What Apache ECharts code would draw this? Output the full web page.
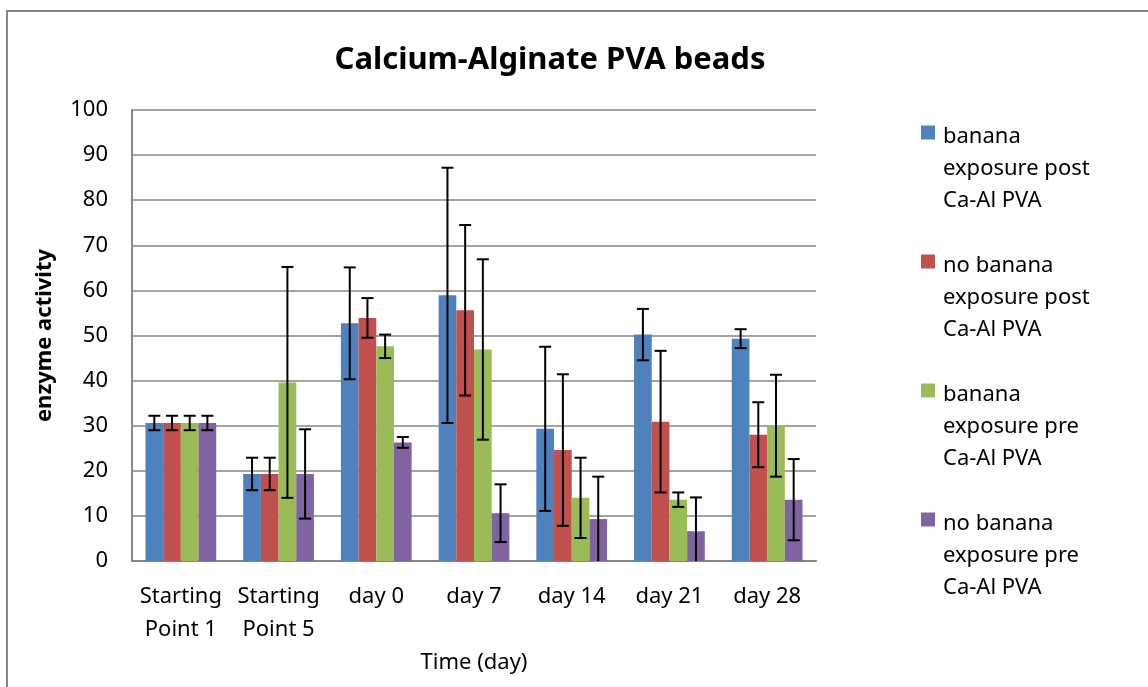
<!DOCTYPE html>
<html>
<head>
<meta charset="utf-8">
<script src="https://cdn.jsdelivr.net/npm/echarts@6/dist/echarts.min.js"></script>
<style>
  html, body { margin: 0; padding: 0; background: #fff; }
  #chart { width: 1148px; height: 687px; }
</style>
</head>
<body>
<div id="chart"></div>
<script>
  // categories on the time axis
  var categories = ['Starting\nPoint 1', 'Starting\nPoint 5', 'day 0', 'day 7', 'day 14', 'day 21', 'day 28'];
  var seriesNames = [
    'banana\nexposure post\nCa-Al PVA',
    'no banana\nexposure post\nCa-Al PVA',
    'banana\nexposure pre\nCa-Al PVA',
    'no banana\nexposure pre\nCa-Al PVA'
  ];
  var colors = ['#4F81BD', '#C0504D', '#9BBB59', '#8064A2'];

  // enzyme activity + error bar half-length
  var postBanana      = [30.6, 19.3, 52.7, 58.9, 29.3, 50.2, 49.3];
  var postBananaErr   = [1.6, 3.6, 12.4, 28.3, 18.2, 5.7, 2.1];
  var postNoBanana    = [30.6, 19.3, 53.9, 55.6, 24.6, 30.9, 28.0];
  var postNoBananaErr = [1.6, 3.6, 4.4, 18.9, 16.8, 15.7, 7.2];
  var preBanana       = [30.6, 39.6, 47.6, 46.9, 14.0, 13.6, 30.0];
  var preBananaErr    = [1.6, 25.6, 2.6, 20.0, 8.9, 1.6, 11.3];
  var preNoBanana     = [30.6, 19.3, 26.3, 10.6, 9.3, 6.6, 13.6];
  var preNoBananaErr  = [1.6, 9.9, 1.2, 6.4, 9.4, 7.5, 9.0];

  var yTicks = [0, 10, 20, 30, 40, 50, 60, 70, 80, 90, 100];

  var values = [postBanana, postNoBanana, preBanana, preNoBanana];
  var errors = [postBananaErr, postNoBananaErr, preBananaErr, preNoBananaErr];

  var CAT_GAP = 0.276;
  var FONT = "'Noto Sans', sans-serif";

  var chart = echarts.init(document.getElementById('chart'));

  function errorBars(idx) {
    return {
      type: 'custom',
      renderItem: function (params, api) {
        var ci = api.value(0), v = api.value(1), e = api.value(2);
        var band = api.size([1, 0])[0];
        var groupW = band * (1 - CAT_GAP);
        var barW = groupW / 4;
        var x = api.coord([ci, 0])[0] - groupW / 2 + (idx + 0.5) * barW;
        var lo = Math.max(0, v - e);
        var yTop = api.coord([ci, v + e])[1];
        var yLo = api.coord([ci, lo])[1];
        var cap = 6;
        var style = { stroke: '#000', lineWidth: 2 };
        var kids = [
          { type: 'line', shape: { x1: x, y1: yTop, x2: x, y2: yLo }, style: style },
          { type: 'line', shape: { x1: x - cap, y1: yTop, x2: x + cap, y2: yTop }, style: style }
        ];
        if (v - e > 0) {
          kids.push({ type: 'line', shape: { x1: x - cap, y1: yLo, x2: x + cap, y2: yLo }, style: style });
        }
        return { type: 'group', children: kids };
      },
      data: values[idx].map(function (v, i) { return [i, v, errors[idx][i]]; }),
      encode: { x: 0, y: 1 },
      z: 10,
      silent: true
    };
  }

  var series = [];
  values.forEach(function (vals, i) {
    series.push({
      name: seriesNames[i],
      type: 'bar',
      data: vals,
      barGap: '0%',
      barCategoryGap: (CAT_GAP * 100) + '%',
      itemStyle: { color: colors[i] }
    });
  });
  values.forEach(function (vals, i) { series.push(errorBars(i)); });

  var option = {
    animation: false,
    color: colors,
    textStyle: { fontFamily: FONT },
    title: {
      text: 'Calcium-Alginate PVA beads',
      left: 545,
      textAlign: 'center',
      top: 40,
      textStyle: { fontFamily: FONT, fontWeight: 'bold', fontSize: 31, color: '#000' }
    },
    legend: {
      data: seriesNames,
      orient: 'vertical',
      left: 921,
      top: 121,
      padding: 0,
      itemGap: 33,
      itemWidth: 17,
      itemHeight: 96,
      icon: 'path://M0,9H14V23H0Z M17,96L17,96',
      textStyle: { fontFamily: FONT, fontSize: 22, lineHeight: 32, color: '#000' }
    },
    grid: { left: 132, right: 332, top: 110, bottom: 126, containLabel: false },
    xAxis: {
      type: 'category',
      data: categories,
      name: 'Time (day)',
      nameLocation: 'middle',
      nameGap: 91,
      nameTextStyle: { fontFamily: FONT, fontSize: 22, color: '#000' },
      axisLine: { lineStyle: { color: '#868686', width: 2 } },
      axisTick: { show: false },
      axisLabel: { fontFamily: FONT, fontSize: 22, lineHeight: 33, color: '#000', margin: 19, interval: 0 }
    },
    yAxis: {
      type: 'value',
      min: yTicks[0],
      max: yTicks[yTicks.length - 1],
      interval: yTicks[1] - yTicks[0],
      name: 'enzyme activity',
      nameLocation: 'middle',
      nameGap: 76,
      nameTextStyle: { fontFamily: FONT, fontSize: 22, fontWeight: 'bold', color: '#000' },
      axisLine: { show: true, lineStyle: { color: '#868686', width: 2 } },
      axisTick: { show: false },
      axisLabel: { fontFamily: FONT, fontSize: 22, color: '#000', margin: 24 },
      splitLine: { lineStyle: { color: '#868686', width: 1.5 } }
    },
    graphic: [{
      type: 'rect',
      shape: { x: 7, y: 11, width: 1300, height: 900 },
      style: { fill: 'none', stroke: '#868686', lineWidth: 2 },
      silent: true
    }],
    series: series
  };
  chart.setOption(option);
</script>
</body>
</html>
